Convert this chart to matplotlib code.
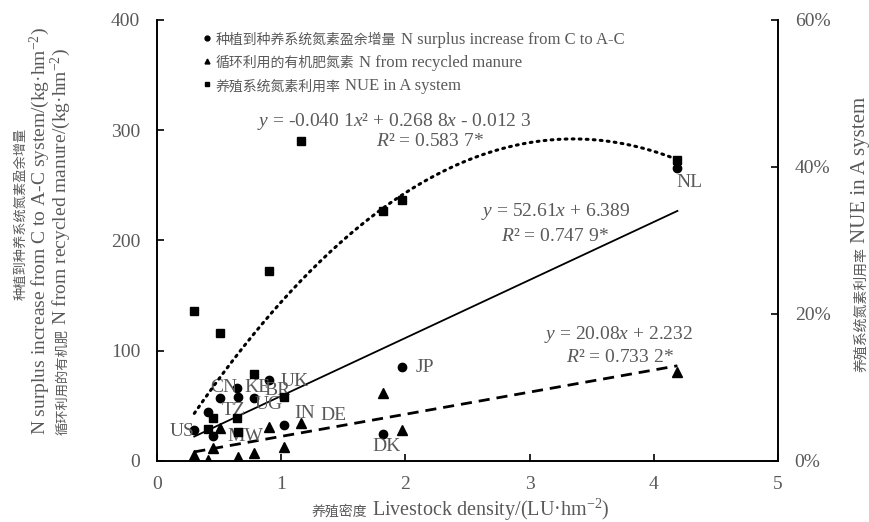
import numpy as np
import matplotlib
matplotlib.use("Agg")
import matplotlib.pyplot as plt
from matplotlib.ticker import PercentFormatter

# livestock density (LU/hm2) and the three series per country
surplus_x = [0.30, 0.41, 0.45, 0.51, 0.64, 0.655, 0.78, 0.90, 1.02, 1.82, 1.975, 4.19]
surplus_y = [28, 44, 23, 57, 66, 58, 57, 73.5, 33, 24.5, 85.5, 266]
manure_x = [0.30, 0.41, 0.45, 0.51, 0.655, 0.78, 0.90, 1.02, 1.16, 1.82, 1.975, 4.19]
manure_y = [5.5, 1, 11.5, 29.5, 4, 7.5, 31, 12.5, 34, 62, 28, 80.5]
nue_x = [0.30, 0.41, 0.45, 0.51, 0.64, 0.655, 0.78, 0.90, 1.02, 1.16, 1.82, 1.975, 4.19]
nue_y = [0.204, 0.044, 0.059, 0.174, 0.059, 0.039, 0.119, 0.258, 0.087, 0.435, 0.340, 0.355, 0.409]

# fitted trend lines
surplus_fit = (52.61, 6.389)
manure_fit = (20.08, 2.232)
nue_fit = (-0.0401, 0.2688, -0.0123)

countries = ["US", "CN", "KE", "BR", "UK", "TZ", "UG", "MW", "IN", "DE", "JP", "DK", "NL"]
label_x = [0.20, 0.54, 0.81, 0.97, 1.11, 0.62, 0.90, 0.71, 1.19, 1.42, 2.16, 1.85, 4.29]
label_y = [27, 67, 67, 63.5, 72, 46, 51, 22, 43.5, 41, 85, 13, 253]

GRAY = "#595959"
SERIF = ["Liberation Serif", "DejaVu Serif"]
CJK = ["Noto Sans CJK SC", "Liberation Serif"]

plt.rcParams["font.family"] = SERIF
plt.rcParams["mathtext.fontset"] = "custom"
plt.rcParams["mathtext.rm"] = "Liberation Serif"
plt.rcParams["mathtext.it"] = "Liberation Serif:italic"


def mixed_text(ax, x, y, parts, coords="figure fraction", rotation=0, gap=3):
    # chain text pieces of different fonts/sizes along a shared baseline
    prev = None
    for s, size, fam in parts:
        kw = dict(fontsize=size, family=fam, color=GRAY, ha="left", va="baseline",
                  rotation=rotation, rotation_mode="anchor", annotation_clip=False)
        if prev is None:
            prev = ax.annotate(s, xy=(x, y), xycoords=coords, **kw)
        elif rotation == 0:
            prev = ax.annotate(s, xy=(1, y), xycoords=(prev, coords),
                               xytext=(gap, 0), textcoords="offset points", **kw)
        else:
            prev = ax.annotate(s, xy=(x, 1), xycoords=(coords, prev),
                               xytext=(0, gap), textcoords="offset points", **kw)


fig = plt.figure(figsize=(8.7, 5.22), dpi=100)
ax = fig.add_axes([0.1805, 0.1169, 0.7138, 0.8448])
ax2 = ax.twinx()

ax.plot(surplus_x, surplus_y, "o", color="black", markersize=6, zorder=3)
ax.plot(manure_x, manure_y, "^", color="black", markersize=7, zorder=3)
ax2.plot(nue_x, nue_y, "s", color="black", markersize=6, zorder=3)

xs = np.linspace(min(surplus_x), max(surplus_x), 200)
ax.plot(xs, surplus_fit[0] * xs + surplus_fit[1], "-", color="black", lw=1.3)
ax.plot(xs, manure_fit[0] * xs + manure_fit[1], color="black", lw=2,
        linestyle=(0, (4, 2.5)))
ax2.plot(xs, nue_fit[0] * xs ** 2 + nue_fit[1] * xs + nue_fit[2], color="black",
         lw=2.2, linestyle=(0, (0.6, 1.7)), dash_capstyle="round")

for name, lx, ly in zip(countries, label_x, label_y):
    ax.text(lx, ly, name, fontsize=14, color=GRAY, ha="center", va="center")

ax.set_xlim(0, 5)
ax.set_ylim(0, 400)
ax2.set_ylim(0, 0.6)
ax.set_xticks([0, 1, 2, 3, 4, 5])
ax.set_yticks([0, 100, 200, 300, 400])
ax2.set_yticks([0, 0.2, 0.4, 0.6])
ax2.yaxis.set_major_formatter(PercentFormatter(1.0, decimals=0))

for a in (ax, ax2):
    a.spines["top"].set_visible(False)
    for sp in ("left", "right", "bottom"):
        a.spines[sp].set_linewidth(1.2)
    a.tick_params(direction="in", length=5, width=1.2, labelsize=14,
                  labelcolor=GRAY)
ax.tick_params(axis="y", pad=12)
ax.tick_params(axis="x", pad=11)
ax2.tick_params(axis="y", pad=12)

# regression equations
eq_kw = dict(fontsize=14, color=GRAY, ha="center", va="center")
ax.text(1.91, 308, "$y$ = -0.040 1$x$² + 0.268 8$x$ - 0.012 3", **eq_kw)
ax.text(2.2, 290, "$R$² = 0.583 7*", **eq_kw)
ax.text(3.21, 226, "$y$ = 52.61$x$ + 6.389", **eq_kw)
ax.text(3.20, 204, "$R$² = 0.747 9*", **eq_kw)
ax.text(3.72, 115, "$y$ = 20.08$x$ + 2.232", **eq_kw)
ax.text(3.73, 94, "$R$² = 0.733 2*", **eq_kw)

# legend
rows = [("o", "种植到种养系统氮素盈余增量", "N surplus increase from C to A-C"),
        ("^", "循环利用的有机肥氮素", "N from recycled manure"),
        ("s", "养殖系统氮素利用率", "NUE in A system")]
for i, (m, zh, en) in enumerate(rows):
    yy = 0.959 - 0.052 * i
    ax.plot([0.0805], [yy], m, color="black", markersize=3.5,
            transform=ax.transAxes, clip_on=False)
    mixed_text(ax, 0.095, yy - 0.014, [(zh, 10, CJK), (en, 12, SERIF)],
               coords="axes fraction")

# axis titles
mixed_text(ax, 312 / 870, 1 - 516 / 522,
           [("养殖密度", 10, CJK), ("Livestock density/(LU·hm$^{-2}$)", 14.5, SERIF)])
mixed_text(ax, 24 / 870, 1 - 300 / 522, [("种植到种养系统氮素盈余增量", 9.5, CJK)],
           rotation=90)
mixed_text(ax, 45 / 870, 1 - 435 / 522,
           [("N surplus increase from C to A-C system/(kg·hm$^{-2}$)", 14, SERIF)],
           rotation=90)
mixed_text(ax, 66 / 870, 1 - 435 / 522,
           [("循环利用的有机肥", 9.5, CJK),
            ("N from recycled manure/(kg·hm$^{-2}$)", 14, SERIF)], rotation=90)
mixed_text(ax, 865 / 870, 1 - 372 / 522,
           [("养殖系统氮素利用率", 10, CJK), ("NUE in A system", 15, SERIF)],
           rotation=90)

fig.savefig("out.png", dpi=100)
